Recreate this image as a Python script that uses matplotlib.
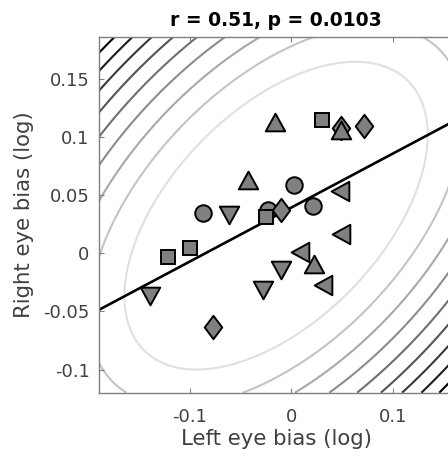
import numpy as np
import matplotlib
matplotlib.use("Agg")
import matplotlib.pyplot as plt
from matplotlib.path import Path

# ---- data ----
circle_x = [-0.0873, -0.0230, 0.0023, 0.0213]
circle_y = [0.0349, 0.0372, 0.0584, 0.0406]
square_x = [-0.0254, 0.0306, -0.1218, -0.1004]
square_y = [0.0315, 0.1145, -0.0029, 0.0043]
diamond_x = [-0.0099, 0.0714, -0.0774, 0.0494]
diamond_y = [0.0372, 0.1094, -0.0636, 0.1074]
down_x = [-0.0616, -0.1399, -0.0280, -0.0106]
down_y = [0.0326, -0.0367, -0.0315, -0.0143]
up_x = [-0.0165, -0.0428, 0.0494, 0.0220]
up_y = [0.1126, 0.0630, 0.1062, -0.0092]
left_x = [0.0477, 0.0082, 0.0312, 0.0494]
left_y = [0.0538, 0.0014, -0.0272, 0.0163]

title_text = "r = 0.51, p = 0.0103"
xlabel_text = "Left eye bias (log)"
ylabel_text = "Right eye bias (log)"
xticks = [-0.1, 0.0, 0.1]
xticklabels = ["-0.1", "0", "0.1"]
yticks = [-0.1, -0.05, 0.0, 0.05, 0.1, 0.15]
yticklabels = ["-0.1", "-0.05", "0", "0.05", "0.1", "0.15"]
xlim = (-0.1895, 0.1595)
ylim = (-0.1198, 0.1856)

# contour style parameters
cov_scale = 3.46
level_base = 1.9
n_levels = 12

plt.rcParams['font.family'] = ['DejaVu Sans']

fig = plt.figure(figsize=(4.48, 4.63), dpi=100)
ax = fig.add_axes([99.3 / 448, 1 - 392.7 / 463, (453 - 99.3) / 448, (392.7 - 37.3) / 463])

all_x = np.array(circle_x + square_x + diamond_x + down_x + up_x + left_x)
all_y = np.array(circle_y + square_y + diamond_y + down_y + up_y + left_y)

# Gaussian fit contours
mu = np.array([all_x.mean(), all_y.mean()])
cov = np.cov(all_x, all_y) * cov_scale
icov = np.linalg.inv(cov)
gx = np.linspace(xlim[0], xlim[1] + 0.01, 500)
gy = np.linspace(ylim[0], ylim[1], 500)
GX, GY = np.meshgrid(gx, gy)
DX = GX - mu[0]
DY = GY - mu[1]
D2 = icov[0, 0] * DX**2 + 2 * icov[0, 1] * DX * DY + icov[1, 1] * DY**2
levels = level_base + np.arange(n_levels)
grays = np.clip(np.linspace(0.88, 0.0, 9).tolist() + [0.0] * (n_levels - 9), 0, 1)
colors = [(g, g, g) for g in grays]
ax.contour(GX, GY, D2, levels=levels, colors=colors, linewidths=1.5, zorder=1)

# regression line
slope, intercept = np.polyfit(all_x, all_y, 1)
lx = np.array([xlim[0], xlim[1]])
ax.plot(lx, slope * lx + intercept, color='black', lw=1.9, zorder=2, solid_capstyle='butt')

# markers
tri_up = Path([(0, 1), (-1.1, -1), (1.1, -1), (0, 1)], [1, 2, 2, 79])
tri_down = Path([(0, -1), (-1.1, 1), (1.1, 1), (0, -1)], [1, 2, 2, 79])
tri_left = Path([(-1, 0), (1, 1.1), (1, -1.1), (-1, 0)], [1, 2, 2, 79])
diamond = Path([(0, 1), (0.75, 0), (0, -1), (-0.75, 0), (0, 1)], [1, 2, 2, 2, 79])

face = '#808080'
kw = dict(linestyle='none', markerfacecolor=face, markeredgecolor='black',
          markeredgewidth=1.4, zorder=3)
ax.plot(circle_x, circle_y, marker='o', markersize=11.9, **kw)
ax.plot(square_x, square_y, marker='s', markersize=10.6, **kw)
ax.plot(diamond_x, diamond_y, marker=diamond, markersize=16.8, **kw)
ax.plot(down_x, down_y, marker=tri_down, markersize=14.0, **kw)
ax.plot(up_x, up_y, marker=tri_up, markersize=14.0, **kw)
ax.plot(left_x, left_y, marker=tri_left, markersize=14.0, **kw)

ax.set_xlim(*xlim)
ax.set_ylim(*ylim)
ax.set_xticks(xticks)
ax.set_xticklabels(xticklabels)
ax.set_yticks(yticks)
ax.set_yticklabels(yticklabels)

spine_c = '#808080'
text_c = '#404040'
for s in ax.spines.values():
    s.set_color(spine_c)
    s.set_linewidth(1.0)
ax.tick_params(direction='in', length=3.5, width=0.8, color=spine_c,
               labelcolor=text_c, labelsize=12.9, top=True, right=True)
ax.tick_params(axis='x', pad=11)
ax.tick_params(axis='y', pad=7)

ax.set_xlabel(xlabel_text, fontsize=15.3, color=text_c, labelpad=2.5)
ax.set_ylabel(ylabel_text, fontsize=15.3, color=text_c, labelpad=7)
ax.set_title(title_text, fontsize=13.5, fontweight='bold', color='black', pad=8)

fig.savefig('out.png', dpi=100)
